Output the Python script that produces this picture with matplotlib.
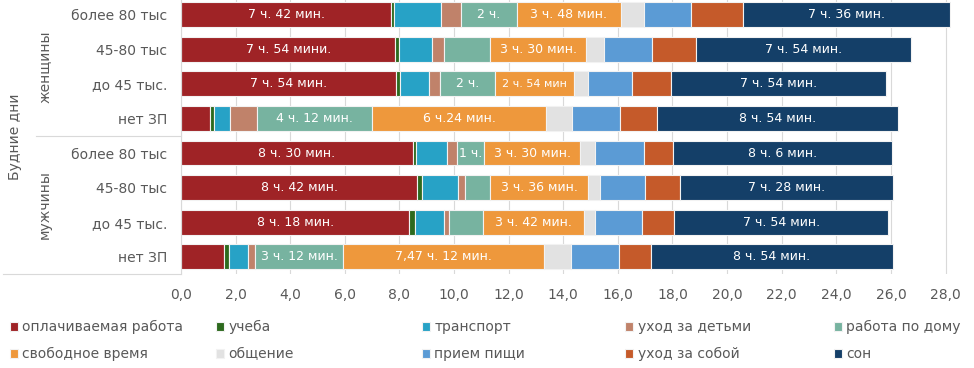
import numpy as np
import matplotlib.pyplot as plt
from matplotlib.lines import Line2D

plt.rcParams['font.family'] = ['DejaVu Sans']

# rows from top to bottom
rows = ['более 80 тыс', '45-80 тыс', 'до 45 тыс.', 'нет ЗП',
        'более 80 тыс', '45-80 тыс', 'до 45 тыс.', 'нет ЗП']
groups = ['женщины', 'мужчины']
top_group = 'Будние дни'

names = ['оплачиваемая работа', 'учеба', 'транспорт', 'уход за детьми', 'работа по дому',
         'свободное время', 'общение', 'прием пищи', 'уход за собой', 'сон']
colors = ['#9F2326', '#2D6A1E', '#27A2C6', '#C0826A', '#77B3A0',
          '#EE983C', '#E2E2E2', '#5B9BD5', '#C55A2A', '#143F68']

paid = [7.70, 7.85, 7.87, 1.07, 8.48, 8.66, 8.36, 1.59]
study = [0.09, 0.14, 0.16, 0.15, 0.12, 0.18, 0.20, 0.16]
transport = [1.72, 1.19, 1.07, 0.58, 1.13, 1.31, 1.08, 0.69]
childcare = [0.76, 0.46, 0.39, 1.00, 0.36, 0.25, 0.17, 0.28]
housework = [2.02, 1.68, 2.00, 4.19, 1.01, 0.93, 1.24, 3.22]
free_time = [3.81, 3.52, 2.92, 6.39, 3.51, 3.59, 3.71, 7.35]
social = [0.84, 0.65, 0.50, 0.93, 0.55, 0.42, 0.40, 0.99]
eating = [1.75, 1.75, 1.59, 1.76, 1.81, 1.67, 1.74, 1.77]
selfcare = [1.91, 1.63, 1.45, 1.36, 1.06, 1.28, 1.17, 1.17]
sleep = [7.55, 7.86, 7.88, 8.84, 8.02, 7.80, 7.84, 8.85]

paid_labels = ['7 ч. 42 мин.', '7 ч. 54 мини.', '7 ч. 54 мин.', '',
               '8 ч. 30 мин.', '8 ч. 42 мин.', '8 ч. 18 мин.', '']
housework_labels = ['2 ч.', '', '2 ч.', '4 ч. 12 мин.', '1 ч.', '', '', '3 ч. 12 мин.']
free_labels = ['3 ч. 48 мин.', '3 ч. 30 мин.', '2 ч. 54 мин', '6 ч.24 мин.',
               '3 ч. 30 мин.', '3 ч. 36 мин.', '3 ч. 42 мин.', '7,47 ч. 12 мин.']
sleep_labels = ['7 ч. 36 мин.', '7 ч. 54 мин.', '7 ч. 54 мин.', '8 ч. 54 мин.',
                '8 ч. 6 мин.', '7 ч. 28 мин.', '7 ч. 54 мин.', '8 ч. 54 мин.']

series = [paid, study, transport, childcare, housework, free_time, social, eating, selfcare, sleep]
seg_labels = {0: paid_labels, 4: housework_labels, 5: free_labels, 9: sleep_labels}

grey = '#595959'
fig = plt.figure(figsize=(9.74, 3.68), dpi=100)
ax = fig.add_axes([181 / 974, 1 - 274 / 368, 770 / 974, 276.5 / 368])

y = np.arange(len(rows))
left = np.zeros(len(rows))
handles = []
for i, vals in enumerate(series):
    bars = ax.barh(y, vals, left=left, height=0.72, color=colors[i], edgecolor='#F2F2F2',
                   linewidth=0.8, label=names[i], zorder=2)
    handles.append(bars)
    if i in seg_labels:
        txts = ax.bar_label(bars, labels=seg_labels[i], label_type='center', color='white', fontsize=9)
        if i == 5:
            # the narrow segment gets a smaller label, as in the source
            txts[2].set_fontsize(8)
    left += np.array(vals)

ax.set_ylim(7.5, -0.5)
ax.set_xlim(0, 28.2)
ax.set_xticks(np.arange(0, 29, 2))
ax.set_xticklabels([f'{v:.1f}'.replace('.', ',') for v in np.arange(0, 29, 2)])
ax.set_yticks(y)
ax.set_yticklabels(rows)
ax.tick_params(axis='both', length=0, colors=grey, labelsize=10)
ax.tick_params(axis='x', pad=10)
ax.tick_params(axis='y', pad=10)
ax.grid(axis='x', color='#D9D9D9', linewidth=0.8, zorder=0)
for s in ['top', 'right', 'bottom']:
    ax.spines[s].set_visible(False)
ax.spines['left'].set_color('#D9D9D9')

# multi-level category labels
fig.text(15 / 974, 1 - 137 / 368, top_group, rotation=90, ha='center', va='center', color=grey, fontsize=10)
fig.text(45 / 974, 1 - 67 / 368, groups[0], rotation=90, ha='center', va='center', color=grey, fontsize=10)
fig.text(45 / 974, 1 - 205 / 368, groups[1], rotation=90, ha='center', va='center', color=grey, fontsize=10)
fig.add_artist(Line2D([36 / 974, 181 / 974], [1 - 136 / 368, 1 - 136 / 368], color='#D9D9D9', lw=0.8))
fig.add_artist(Line2D([3 / 974, 181 / 974], [1 - 274 / 368, 1 - 274 / 368], color='#D9D9D9', lw=0.8))

# legend: 5 columns of 2 entries, one legend per column
col_x = [10, 216, 422, 625, 834]
for c in range(5):
    leg = fig.legend([handles[c], handles[c + 5]], [names[c], names[c + 5]],
                     loc='upper left', bbox_to_anchor=(col_x[c] / 974, 1 - 320 / 368),
                     frameon=False, fontsize=10, handlelength=0.6, handleheight=0.6,
                     handletextpad=0.3, labelspacing=0.95, borderaxespad=0, borderpad=0)
    for t in leg.get_texts():
        t.set_color(grey)

plt.savefig('out.png', dpi=100)
